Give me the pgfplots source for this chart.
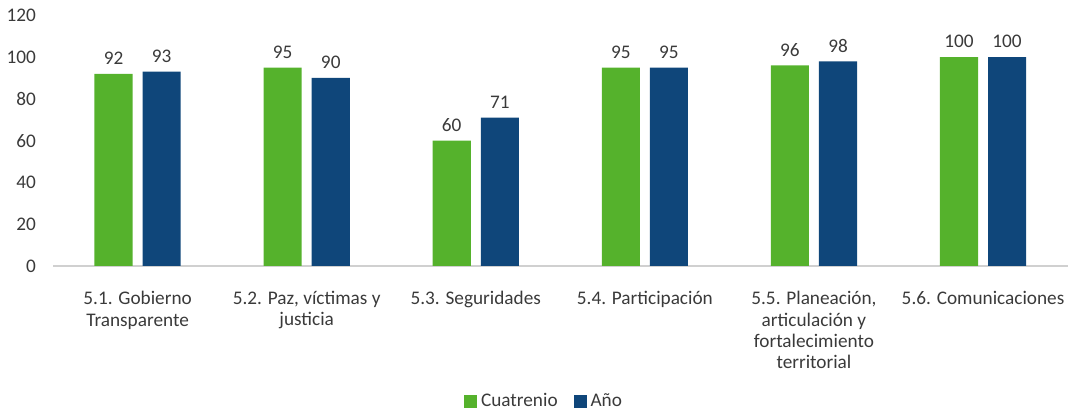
\documentclass[border=0pt]{standalone}
\usepackage{pgfplots}
\pgfplotsset{compat=1.18}
\usepackage{fontspec}
\setmainfont{Carlito}
\definecolor{cuatr}{HTML}{55B22C}
\definecolor{anio}{HTML}{0F467A}
\definecolor{txt}{HTML}{3A3A3A}
\definecolor{axl}{HTML}{D0D0D0}
\begin{document}
\begin{tikzpicture}
\begin{axis}[
  width=506pt, height=125pt, scale only axis,
  xmin=-0.5, xmax=5.5, ymin=0, ymax=120,
  ytick={0,20,...,120},
  xtick={0,...,5},
  xticklabels={
    {5.1. Gobierno\\Transparente},
    {5.2. Paz, víctimas y\\justicia},
    {5.3. Seguridades},
    {5.4. Participación},
    {5.5. Planeación,\\articulación y\\fortalecimiento\\territorial},
    {5.6. Comunicaciones}},
  axis x line*=bottom, axis y line*=left,
  x axis line style={axl, line width=0.8pt},
  y axis line style={draw=none},
  tick style={draw=none},
  /pgf/number format/assume math mode=true,
  ticklabel style={font=\fontsize{9.6}{10.5}\selectfont, text=txt},
  xticklabel style={align=center, yshift=-5pt},
  yticklabel style={xshift=-5pt, inner ysep=4.5pt},
  ybar=5pt, bar width=19pt,
  nodes near coords,
  every node near coord/.append style={font=\fontsize{9.6}{10}\selectfont, text=txt, yshift=1pt},
  legend style={at={(0.485,-0.54)}, anchor=center, draw=none, fill=none,
    inner sep=0pt, legend columns=2, font=\fontsize{9.6}{10}\selectfont, text=txt,
    /tikz/every even column/.append style={column sep=6pt}},
  legend image code/.code={\fill[#1] (0pt,-3.2pt) rectangle (6.4pt,3.2pt);},
]
\addplot[fill=cuatr, draw=none] coordinates {(0,92) (1,95) (2,60) (3,95) (4,96) (5,100)};
\addplot[fill=anio, draw=none] coordinates {(0,93) (1,90) (2,71) (3,95) (4,98) (5,100)};
\legend{Cuatrenio, Año}
\end{axis}
\end{tikzpicture}
\end{document}
